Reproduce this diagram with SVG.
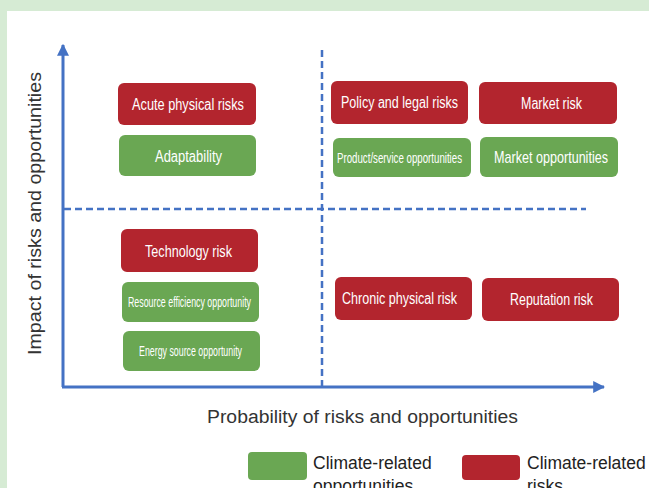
<svg xmlns="http://www.w3.org/2000/svg" width="649" height="488" viewBox="0 0 649 488">
  <style>
    .risk { fill: #b3252e; }
    .opp { fill: #6aa753; }
    .lbl { font-family: "Liberation Sans Narrow", "Liberation Sans", Arial, sans-serif; font-size: 16px; fill: #ffffff; text-anchor: middle; }
    .small { font-size: 14px; }
    .axis-title { font-family: "Liberation Sans", Arial, sans-serif; font-size: 18px; fill: #333333; }
    .legend-text { font-family: "Liberation Sans", Arial, sans-serif; font-size: 17.5px; fill: #222222; }
    .axis { stroke: #4472c4; stroke-width: 3; fill: none; }
    .dash { stroke: #4472c4; stroke-width: 2.5; stroke-dasharray: 7 4; fill: none; }
  </style>
  <defs>
    <marker id="arrow" viewBox="0 0 10 10" refX="9" refY="5" markerWidth="4" markerHeight="4" orient="auto" markerUnits="strokeWidth">
      <path d="M0,0 L10,5 L0,10 Z" fill="#4472c4"/>
    </marker>
  </defs>

  <!-- page background with green frame -->
  <rect x="0" y="0" width="649" height="488" fill="#d6ebd4"/>
  <rect x="7" y="11" width="642" height="477" fill="#ffffff"/>

  <!-- axes and quadrant dividers -->
  <g id="connectors">
    <line class="dash" x1="322" y1="50" x2="322" y2="386"/>
    <line class="dash" x1="64" y1="209" x2="586" y2="209"/>
    <line class="axis" x1="63" y1="387" x2="63" y2="45" marker-end="url(#arrow)"/>
    <line class="axis" x1="62" y1="387" x2="604" y2="387" marker-end="url(#arrow)"/>
  </g>

  <!-- top-left quadrant -->
  <g id="acute-physical-risks">
    <rect class="risk" x="118" y="83" width="138" height="42" rx="6"/>
    <text class="lbl" x="188" y="110" textLength="112" lengthAdjust="spacingAndGlyphs">Acute physical risks</text>
  </g>
  <g id="adaptability">
    <rect class="opp" x="119" y="135" width="137" height="41" rx="6"/>
    <text class="lbl" x="188.5" y="161.5" textLength="67" lengthAdjust="spacingAndGlyphs">Adaptability</text>
  </g>

  <!-- top-right quadrant -->
  <g id="policy-legal-risks">
    <rect class="risk" x="331" y="81" width="137" height="43" rx="6"/>
    <text class="lbl" x="399.5" y="108" textLength="117" lengthAdjust="spacingAndGlyphs">Policy and legal risks</text>
  </g>
  <g id="market-risk">
    <rect class="risk" x="479" y="82" width="138" height="42" rx="6"/>
    <text class="lbl" x="551.5" y="109" textLength="61" lengthAdjust="spacingAndGlyphs">Market risk</text>
  </g>
  <g id="product-service-opportunities">
    <rect class="opp" x="333" y="138" width="138" height="39" rx="6"/>
    <text class="lbl small" transform="translate(399.5,162.5) scale(0.7,1)" x="0" y="0" textLength="178.6" lengthAdjust="spacingAndGlyphs">Product/service opportunities</text>
  </g>
  <g id="market-opportunities">
    <rect class="opp" x="480" y="137" width="138" height="40" rx="6"/>
    <text class="lbl" transform="translate(551,162.5) scale(0.8,1)" x="0" y="0" textLength="142.5" lengthAdjust="spacingAndGlyphs">Market opportunities</text>
  </g>

  <!-- bottom-left quadrant -->
  <g id="technology-risk">
    <rect class="risk" x="121" y="229" width="137" height="43" rx="6"/>
    <text class="lbl" x="188.5" y="256.5" textLength="87" lengthAdjust="spacingAndGlyphs">Technology risk</text>
  </g>
  <g id="resource-efficiency-opportunity">
    <rect class="opp" x="122" y="282" width="137" height="40" rx="6"/>
    <text class="lbl small" x="189.5" y="307" textLength="123" lengthAdjust="spacingAndGlyphs">Resource efficiency opportunity</text>
  </g>
  <g id="energy-source-opportunity">
    <rect class="opp" x="123" y="331" width="137" height="40" rx="6"/>
    <text class="lbl small" x="190.5" y="356" textLength="103" lengthAdjust="spacingAndGlyphs">Energy source opportunity</text>
  </g>

  <!-- bottom-right quadrant -->
  <g id="chronic-physical-risk">
    <rect class="risk" x="335" y="277" width="137" height="43" rx="6"/>
    <text class="lbl" x="399.5" y="304" textLength="115" lengthAdjust="spacingAndGlyphs">Chronic physical risk</text>
  </g>
  <g id="reputation-risk">
    <rect class="risk" x="482" y="278" width="137" height="43" rx="6"/>
    <text class="lbl" x="551.5" y="305" textLength="83" lengthAdjust="spacingAndGlyphs">Reputation risk</text>
  </g>

  <!-- axis titles -->
  <text class="axis-title" x="207" y="423" textLength="311" lengthAdjust="spacingAndGlyphs">Probability of risks and opportunities</text>
  <text class="axis-title" transform="translate(41,355) rotate(-90)" textLength="283" lengthAdjust="spacingAndGlyphs">Impact of risks and opportunities</text>

  <!-- legend -->
  <g id="legend">
    <rect class="opp" x="248" y="452" width="59" height="28" rx="4"/>
    <text class="legend-text" x="313" y="469">Climate-related</text>
    <text class="legend-text" x="313" y="492">opportunities</text>
    <rect class="risk" x="462" y="455" width="58" height="25" rx="4"/>
    <text class="legend-text" x="527" y="469">Climate-related</text>
    <text class="legend-text" x="527" y="492">risks</text>
  </g>
</svg>
